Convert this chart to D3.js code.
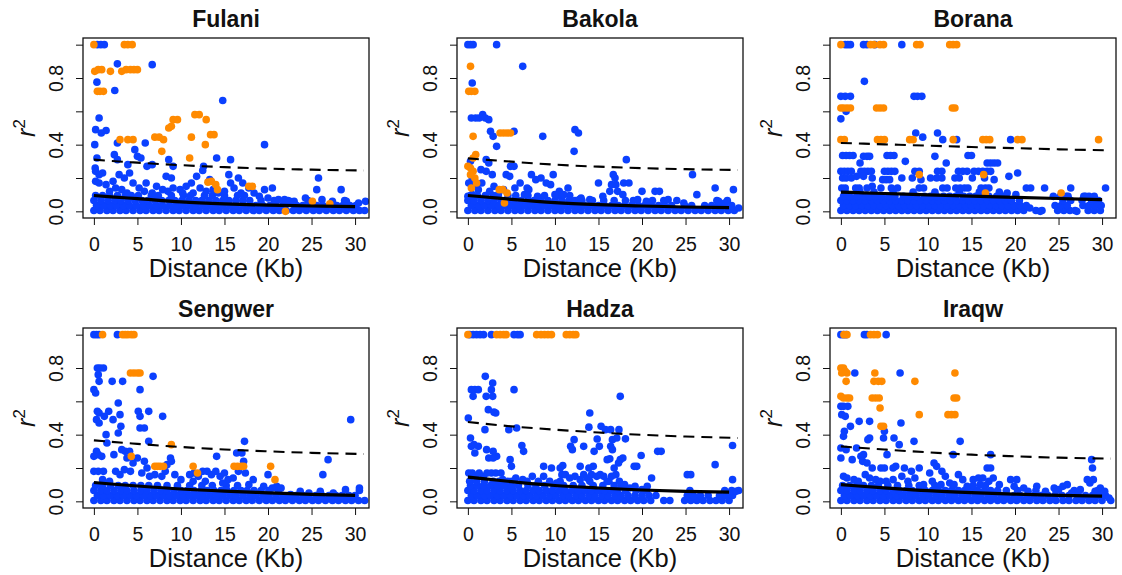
<!DOCTYPE html>
<html>
<head>
<meta charset="utf-8">
<script src="https://cdn.jsdelivr.net/npm/d3@7"></script>
<style>
  body { margin: 0; background: #fff; }
  svg { display: block; }
  text { font-family: "Liberation Sans", Arial, sans-serif; fill: #111; }
  .tick text { font-size: 19.5px; }
  .tick line { stroke: #111; }
</style>
</head>
<body>
<svg id="chart" width="1122" height="575"></svg>
<script>
// panel names, axis ticks
const populations = ["Fulani", "Bakola", "Borana", "Sengwer", "Hadza", "Iraqw"];
const xTicks = [0, 5, 10, 15, 20, 25, 30];
const yTicks = [0, 0.2, 0.4, 0.6, 0.8, 1];
const yTickLabels = ["0.0", "", "0.4", "", "0.8", ""];

// fitted decay curves
const solidX = [0, 2, 5, 10, 15, 20, 25, 30];
const dashX = [0, 2, 5, 10, 15, 20, 25, 31];
const fulaniSolid = [0.095, 0.087, 0.076, 0.057, 0.045, 0.037, 0.032, 0.028];
const fulaniDash = [0.31, 0.302, 0.292, 0.277, 0.265, 0.256, 0.25, 0.245];
const bakolaSolid = [0.095, 0.086, 0.072, 0.052, 0.04, 0.032, 0.026, 0.022];
const bakolaDash = [0.318, 0.31, 0.298, 0.28, 0.268, 0.259, 0.253, 0.248];
const boranaSolid = [0.115, 0.112, 0.107, 0.099, 0.091, 0.084, 0.077, 0.07];
const boranaDash = [0.41, 0.407, 0.402, 0.394, 0.386, 0.379, 0.372, 0.366];
const sengwerSolid = [0.113, 0.104, 0.092, 0.074, 0.061, 0.051, 0.042, 0.036];
const sengwerDash = [0.366, 0.357, 0.345, 0.326, 0.311, 0.3, 0.291, 0.284];
const hadzaSolid = [0.145, 0.135, 0.118, 0.095, 0.08, 0.068, 0.06, 0.055];
const hadzaDash = [0.476, 0.465, 0.45, 0.43, 0.413, 0.399, 0.389, 0.38];
const iraqwSolid = [0.1, 0.092, 0.081, 0.064, 0.052, 0.043, 0.036, 0.031];
const iraqwDash = [0.33, 0.322, 0.311, 0.294, 0.28, 0.27, 0.262, 0.256];

// dense low-r2 band, as rows: [r2, [distances]]
const fulaniFloor = [
  [0.005, [0,0.7,1.5,2.2,3.0,3.7,4.5,5.3,6.0,6.8,7.5,8.3,9.1,9.8,10.6,11.4,12.1,12.9,13.7,14.4,15.2,16.0,16.7,17.5,18.3,19.0,19.8,20.6,21.3,22.1,22.9,23.6,24.4,25.2,25.9,26.7,27.5,28.2,29.0,29.8,30.5,31.1]],
  [0.035, [0.3,1.1,1.9,2.6,3.4,4.1,4.9,5.7,6.4,7.2,7.9,8.7,9.5,10.2,11.0,11.7,12.5,13.3,14.0,14.8,15.6,16.3,17.1,17.9,18.6,19.4,20.2,20.9,21.7,23.3,24.0,24.8,25.6,26.3,27.1,27.9,28.6,29.4,30.1]],
  [0.065, [0,0.8,1.6,2.4,3.1,3.9,4.7,5.5,6.2,7.0,7.8,8.6,9.3,10.1,10.9,11.7,12.4,13.2,14.0,14.8,15.5,16.3,17.1,17.9,19.2,20.7,22.3,24.6,28.8]],
  [0.095, [0.2,1.0,1.8,2.7,3.6,4.3,5.1,6.6,7.4,8.9,10.3,11.1,12.7,13.6,15.0,16.5,17.3]]
];
const bakolaFloor = [
  [0.005, [0,0.8,1.5,2.3,3.1,3.8,4.6,5.4,6.1,6.9,7.7,8.4,9.2,10.0,10.7,11.5,12.3,13.0,13.8,14.6,15.3,16.1,16.9,17.6,18.4,19.2,19.9,20.7,21.5,22.2,23.0,23.8,24.5,25.3,26.1,26.8,27.6,28.4,29.1,29.9,30.6]],
  [0.035, [0.4,1.2,1.9,2.7,3.5,4.2,5.0,5.8,6.5,7.3,8.1,8.8,9.6,10.4,11.1,11.9,12.7,13.4,14.2,15.0,15.7,16.5,17.3,18.0,18.8,19.6,20.3,21.1,21.9,22.6,23.4,24.9,25.7,27.2,28.0,28.8,29.5,30.3]],
  [0.065, [0,0.7,1.5,2.3,3.0,3.8,4.6,5.3,6.1,6.9,7.6,8.4,9.2,10.0,10.8,11.6,12.3,13.1,14.3,15.6,16.8,18.1,19.0,21.2,22.5,24.0,28.6,29.8]],
  [0.095, [0.3,1.1,2.0,2.9,4.6,5.5,6.9,8.8,10.4,11.7]]
];
const boranaFloor = [
  [0.005, [0,0.7,1.4,2.1,2.8,3.5,4.2,4.9,5.6,6.3,7.0,7.7,8.4,9.1,9.8,10.5,11.2,11.9,12.6,13.3,14.0,14.7,15.4,16.1,16.8,17.5,18.2,18.9,19.6,20.3,21.0,22.4,23.1,24.9,25.6,26.3,26.9,28.4,29.1,29.8]],
  [0.035, [0.3,1.0,1.7,2.4,3.1,3.8,4.5,5.2,5.9,6.6,7.3,8.0,8.7,9.4,10.1,10.8,11.5,12.2,12.9,13.6,14.3,15.0,15.7,16.4,17.1,17.8,18.5,19.2,19.9,20.6,21.3,24.6,25.3,26.0,27.8,28.5,29.2,29.9]],
  [0.065, [0,0.7,1.4,2.1,2.8,3.5,4.2,4.9,5.6,6.3,7.0,7.7,8.4,9.1,9.8,10.5,11.2,11.9,12.6,13.3,14.0,14.7,15.4,16.1,16.8,17.5,18.2,18.9,19.6,20.5,25.5,26.4,27.7,28.8,29.6]],
  [0.09, [0.3,1.0,1.8,2.6,3.3,4.0,4.7,5.5,6.2,7.2,8.0,8.7,9.6,10.3,11.0,11.8,12.5,13.2,14.1,14.8,15.5,16.3,17.0,17.9,18.7,24.4,25.2,26.1,27.9,28.5,29.1]],
  [0.115, [0.5,2.2,3.8,6.0,8.3,10.8,13.6,15.9,18.2]]
];
const sengwerFloor = [
  [0.005, [0,0.8,1.5,2.3,3.0,3.8,4.6,5.3,6.1,6.8,7.6,8.4,9.1,9.9,10.6,11.4,12.2,12.9,13.7,14.4,15.2,16.0,16.7,17.5,18.2,19.0,19.8,20.5,21.3,22.0,22.8,23.6,24.3,25.1,25.8,26.6,27.4,28.1,28.9,29.6,30.4,31.1]],
  [0.035, [0.4,1.1,1.9,2.7,3.4,4.2,4.9,5.7,6.5,7.2,8.0,8.7,9.5,10.3,11.0,11.8,12.5,13.3,14.1,14.8,15.6,16.3,17.1,17.9,18.6,19.4,20.1,20.9,21.7,22.4,23.2,24.0,24.7,25.5,26.2,27.0,27.8,28.5,29.3,30.0]],
  [0.065, [0,0.8,1.5,2.3,3.1,3.8,4.6,5.4,6.1,6.9,7.7,8.4,9.2,10.0,10.7,11.5,12.3,13.0,13.8,14.6,15.3,16.1,16.9,17.6,18.4,19.2,20.1,21.2,30.5]],
  [0.095, [0.2,1.0,1.9,2.8,3.6,4.5,5.4,6.3,7.3,8.4,9.6,11.0,12.4,13.6,15.2,16.5]]
];
const hadzaFloor = [
  [0.005, [0,0.7,1.5,2.2,3.0,3.7,4.5,5.2,6.0,6.7,7.5,8.2,9.0,9.7,10.5,11.2,12.0,12.7,13.5,14.2,15.0,15.7,16.5,17.2,18.0,18.7,19.5,20.2,21.0,22.5,23.2,24.9,25.6,26.3,27.0,27.8,28.5,29.2,30.0]],
  [0.035, [0.4,1.1,1.9,2.6,3.4,4.1,4.9,5.6,6.4,7.1,7.9,8.6,9.4,10.1,10.9,11.6,12.4,13.1,13.9,14.6,15.4,16.1,16.9,17.6,18.4,19.2,20.0,20.8,21.6,25.2,25.9,26.7,27.6,28.9,29.7,30.4]],
  [0.065, [0,0.7,1.5,2.2,3.0,3.7,4.5,5.2,6.0,6.7,7.5,8.2,9.0,9.7,10.5,11.2,12.0,12.7,13.5,14.2,15.0,15.7,16.5,17.2,18.1,19.3,20.5,25.5,29.5,30.3]],
  [0.095, [0.3,1.1,1.8,2.6,3.4,4.2,5.0,5.8,6.9,7.8,8.8,9.9,11.0,12.1,13.1,14.4,15.5,16.8,17.6]],
  [0.12, [0.2,1.0,1.9,2.9,3.6,4.6,6.8,10.6,14.0,16.2]]
];
const iraqwFloor = [
  [0.005, [0,0.7,1.5,2.2,3.0,3.7,4.5,5.2,6.0,6.7,7.5,8.2,9.0,9.7,10.5,11.2,12.0,12.7,13.5,14.2,15.0,15.7,16.5,17.2,18.0,18.7,19.5,20.2,21.0,21.7,22.5,23.2,24.0,24.7,25.5,26.2,27.0,27.7,28.5,29.2,30.0,31.0]],
  [0.035, [0.4,1.1,1.9,2.6,3.4,4.1,4.9,5.6,6.4,7.1,7.9,8.6,9.4,10.1,10.9,11.6,12.4,13.1,13.9,14.6,15.4,16.1,16.9,17.6,18.4,19.1,19.9,20.6,21.4,22.2,23.0,23.8,24.6,25.4,26.2,27.3,28.1,28.9,29.7,30.4]],
  [0.065, [0,0.7,1.5,2.2,3.0,3.7,4.5,5.2,6.0,6.7,7.5,8.2,9.0,9.7,10.5,11.2,12.0,12.7,13.5,14.2,15.0,15.7,16.5,17.2,18.0,19.0,20.3,22.4,24.7,26.8,29.5]],
  [0.095, [0.2,1.0,1.8,2.6,3.5,4.3,5.4,6.5,7.8,9.0,10.8,12.9,15.2,16.6]]
];

// scattered pairs [distance, r2]
const fulaniBlue = [
  [0.4,1],[0.8,1],[1.2,1],[2.7,0.885],[6.7,0.88],[0.35,0.775],[2.4,0.725],[0.6,0.56],[0.2,0.49],[1.4,0.485],
  [0.85,0.47],[0.1,0.4],[2.7,0.41],[5.9,0.41],[14.8,0.665],[19.6,0.4],[14.1,0.32],[15.7,0.31],[0.35,0.32],[0.15,0.26],
  [4.7,0.37],[5.0,0.33],[5.4,0.32],[2.35,0.34],[2.7,0.31],[3.9,0.28],[6.7,0.28],[6.1,0.27],[8.6,0.31],[9.1,0.27],
  [12.6,0.27],[12.5,0.245],[11.8,0.21],[8.3,0.21],[8.9,0.2],[11.2,0.17],[9.9,0.13],[13.3,0.19],[15.5,0.22],[15.7,0.17],
  [16.6,0.2],[17.1,0.17],[19.6,0.13],[20.5,0.14],[25.8,0.2],[25.6,0.13],[28.4,0.13],[24.3,0.08],[23.0,0.06],[21.9,0.07],
  [31.2,0.06],[30.4,0.05],[0.2,0.24],[0.6,0.22],[1.0,0.23],[0.2,0.18],[0.6,0.17],[1.4,0.16],[2.2,0.18],[2.9,0.22],
  [3.5,0.2],[4.1,0.23],[4.5,0.17],[2.5,0.14],[5.2,0.14],[6.0,0.17],[7.2,0.15],[7.9,0.13],[9.1,0.14],[10.6,0.15],
  [12.2,0.14],[11.4,0.11],[13.7,0.13],[14.3,0.11],[16.1,0.14],[17.8,0.14],[18.4,0.11],[1.8,0.12],[3.2,0.13],[3.8,0.11],
  [5.8,0.12],[6.7,0.11],[8.5,0.12],[10.2,0.11],[12.9,0.12],[15.0,0.12],[16.9,0.11],[19.0,0.09],[20.0,0.08],[21.2,0.07],
  [22.5,0.06],[26.2,0.07],[27.4,0.06],[29.0,0.06]
];
const fulaniOrange = [
  [0,1],[3.5,1],[3.9,1],[4.4,1],[0.1,0.84],[0.5,0.85],[0.9,0.85],[1.9,0.84],[3.2,0.84],[3.7,0.85],
  [4.2,0.85],[4.6,0.85],[5.0,0.85],[0.4,0.72],[0.7,0.72],[1.1,0.72],[3.0,0.43],[3.9,0.43],[4.5,0.43],[7.0,0.445],
  [7.5,0.445],[8.0,0.43],[7.8,0.36],[8.6,0.5],[8.9,0.51],[9.1,0.55],[9.6,0.55],[11.0,0.32],[11.2,0.445],[11.6,0.58],
  [12.1,0.58],[12.9,0.55],[12.8,0.4],[13.4,0.46],[13.8,0.46],[13.1,0.175],[13.5,0.18],[14.0,0.16],[14.2,0.13],[17.8,0.15],
  [18.2,0.15],[22.0,0.0],[25.1,0.06],[27.1,0.045]
];
const bakolaBlue = [
  [0,1],[0.3,1],[0.6,1],[3.3,1],[6.3,0.87],[0.5,0.77],[0.4,0.56],[0.9,0.56],[1.3,0.56],[1.7,0.58],
  [2.0,0.56],[2.4,0.55],[2.6,0.48],[2.9,0.45],[5.3,0.48],[3.3,0.39],[8.6,0.45],[12.3,0.49],[12.7,0.47],[12.2,0.36],
  [18.2,0.31],[2.1,0.31],[2.4,0.29],[0.3,0.3],[4.9,0.27],[5.3,0.27],[1.5,0.25],[2.1,0.24],[2.8,0.22],[4.4,0.22],
  [4.8,0.21],[0.1,0.17],[0.5,0.2],[0.8,0.16],[1.6,0.17],[3.0,0.15],[4.1,0.13],[5.4,0.14],[6.0,0.17],[7.0,0.13],
  [7.3,0.22],[7.8,0.19],[8.4,0.2],[9.0,0.17],[9.5,0.16],[9.8,0.22],[10.5,0.12],[11.5,0.14],[12.8,0.07],[15.0,0.17],
  [16.3,0.12],[16.7,0.22],[16.9,0.2],[17.0,0.16],[16.5,0.16],[17.2,0.12],[17.9,0.17],[18.5,0.17],[20.0,0.12],[21.5,0.12],
  [22.0,0.12],[23.0,0.07],[25.8,0.22],[26.3,0.1],[28.4,0.14],[30.5,0.13],[31.1,0.02],[29.5,0.05],[28.8,0.06],[24.8,0.05],
  [20.5,0.06],[19.5,0.07],[14.0,0.07],[13.0,0.08],[10.0,0.1],[8.0,0.09],[6.5,0.1],[3.5,0.1],[2.5,0.12],[1.2,0.13],
  [0,0.09],[0.5,0.1],[6.8,0.14],[11.0,0.1],[15.5,0.09],[17.8,0.1]
];
const bakolaOrange = [
  [0.3,0.87],[0.1,0.72],[0.4,0.72],[0.8,0.72],[0.6,0.45],[0.9,0.34],[0.6,0.32],[0,0.27],[0.3,0.26],[0.6,0.24],
  [0.3,0.22],[0.8,0.2],[1.0,0.17],[0.4,0.14],[3.7,0.47],[4.1,0.47],[4.5,0.47],[4.9,0.47],[3.6,0.13],[4.0,0.13],
  [4.5,0.11],[4.2,0.05]
];
const boranaBlue = [
  [0.5,1],[0.8,1],[1.1,1],[2.6,1],[3.0,1],[3.9,1],[7.0,1],[2.7,0.78],[0,0.69],[0.5,0.69],
  [1.1,0.69],[8.4,0.69],[8.8,0.69],[9.3,0.69],[0,0.555],[0.6,0.6],[8.6,0.47],[9.4,0.445],[11.1,0.47],[11.7,0.43],
  [13.3,0.43],[19.5,0.43],[0.2,0.335],[0.6,0.335],[1.0,0.335],[1.4,0.335],[2.6,0.33],[3.0,0.33],[3.3,0.33],[5.3,0.335],
  [5.7,0.335],[6.1,0.335],[10.8,0.33],[14.6,0.335],[15.0,0.335],[2.2,0.29],[7.4,0.3],[12.1,0.29],[16.8,0.29],[17.2,0.29],
  [17.6,0.29],[18.0,0.29],[0,0.24],[0.4,0.24],[0.8,0.24],[1.2,0.24],[2.3,0.24],[2.7,0.24],[3.1,0.24],[3.5,0.24],
  [5.0,0.24],[5.4,0.24],[5.8,0.24],[6.2,0.24],[8.5,0.24],[9.0,0.24],[11.1,0.24],[11.6,0.24],[13.5,0.24],[14.0,0.24],
  [14.5,0.24],[15.3,0.24],[15.8,0.24],[16.3,0.24],[16.8,0.24],[17.2,0.24],[20.3,0.23],[19.3,0.21],[0.2,0.2],[0.6,0.2],
  [1.2,0.2],[1.8,0.21],[2.6,0.21],[3.6,0.2],[4.8,0.19],[5.2,0.19],[5.6,0.19],[7.0,0.2],[8.2,0.2],[9.2,0.19],
  [10.3,0.2],[11.0,0.2],[11.6,0.2],[13.1,0.2],[13.6,0.2],[15.1,0.2],[16.5,0.2],[17.6,0.19],[0.1,0.14],[0.5,0.14],
  [1.7,0.14],[2.1,0.14],[3.0,0.14],[3.6,0.15],[4.6,0.14],[5.8,0.14],[6.5,0.14],[9.0,0.14],[9.5,0.14],[11.7,0.14],
  [12.2,0.14],[13.2,0.14],[13.7,0.14],[14.2,0.14],[14.6,0.14],[16.1,0.14],[16.6,0.14],[17.0,0.14],[19.1,0.11],[21.3,0.14],
  [21.8,0.14],[23.4,0.14],[26.4,0.14],[30.4,0.14],[20.1,0.1],[21.7,0.02],[22.9,0.0],[27.1,0.0],[25.9,0.09],[28.1,0.09]
];
const boranaOrange = [
  [0,1],[3.4,1],[3.8,1],[4.5,1],[4.9,1],[8.7,1],[9.1,1],[12.5,1],[12.9,1],[13.3,1],
  [0,0.62],[0.3,0.62],[0.7,0.62],[1.1,0.62],[4.1,0.62],[4.5,0.62],[4.9,0.62],[12.8,0.62],[13.1,0.62],[0,0.43],
  [0.4,0.43],[4.2,0.43],[4.6,0.43],[5.0,0.43],[7.9,0.43],[8.3,0.43],[12.9,0.43],[16.3,0.43],[16.7,0.43],[17.1,0.43],
  [20.3,0.43],[20.8,0.43],[29.6,0.43],[16.4,0.22],[16.6,0.11],[25.3,0.11],[9.0,0.22]
];
const sengwerBlue = [
  [0,1],[0.3,1],[0.6,1],[2.7,1],[0.4,0.8],[0.7,0.8],[1.1,0.8],[0.5,0.76],[0.6,0.72],[2.1,0.72],
  [3.3,0.72],[6.8,0.75],[0,0.67],[0.2,0.65],[5.3,0.67],[2.8,0.59],[0.4,0.54],[0.6,0.53],[1.7,0.54],[3.0,0.52],
  [5.1,0.54],[6.3,0.54],[0.3,0.49],[0.6,0.47],[1.2,0.51],[2.2,0.49],[5.3,0.51],[7.9,0.51],[1.4,0.4],[2.8,0.41],
  [3.1,0.45],[5.3,0.44],[5.8,0.44],[1.5,0.35],[6.3,0.36],[29.5,0.49],[17.3,0.36],[0.3,0.3],[0.5,0.28],[0,0.27],
  [0.9,0.27],[3.2,0.31],[3.6,0.3],[4.1,0.3],[2.3,0.28],[3.8,0.26],[4.5,0.23],[5.0,0.26],[5.8,0.24],[14.1,0.27],
  [16.4,0.29],[17.0,0.29],[17.2,0.24],[26.9,0.25],[26.3,0.16],[30.5,0.08],[8.8,0.26],[8.4,0.22],[8.9,0.24],[0,0.18],
  [0.5,0.18],[1.1,0.18],[2.5,0.18],[3.0,0.16],[3.5,0.19],[4.2,0.18],[5.5,0.17],[6.1,0.2],[6.4,0.15],[7.0,0.16],
  [7.8,0.15],[8.2,0.18],[9.3,0.16],[10.0,0.13],[11.0,0.16],[11.5,0.17],[12.0,0.15],[12.5,0.18],[13.0,0.18],[13.5,0.16],
  [14.0,0.18],[14.5,0.15],[15.0,0.17],[15.4,0.13],[16.0,0.14],[16.6,0.18],[17.4,0.17],[18.3,0.13],[17.8,0.1],[19.5,0.09],
  [20.0,0.16],[20.5,0.08],[21.0,0.09],[21.5,0.08],[1.0,0.13],[1.8,0.12],[11.4,0.12],[12.8,0.12],[14.8,0.11],[23.7,0.06],
  [28.9,0.07],[27.5,0.05],[26.0,0.06],[24.7,0.05],[22.6,0.04]
];
const sengwerOrange = [
  [1.0,1],[3.3,1],[3.6,1],[3.9,1],[4.3,1],[4.6,1],[4.2,0.77],[4.6,0.77],[5.0,0.77],[5.3,0.77],
  [8.9,0.34],[4.3,0.27],[7.0,0.21],[7.3,0.21],[7.6,0.21],[8.0,0.21],[11.4,0.21],[11.9,0.17],[16.1,0.21],[16.5,0.21],
  [16.9,0.21],[17.2,0.21],[20.3,0.21],[20.8,0.13]
];
const hadzaBlue = [
  [0.2,1],[0.6,1],[1.0,1],[1.4,1],[1.8,1],[2.7,1],[5.3,1],[5.7,1],[6.0,1],[2.0,0.75],
  [0.4,0.67],[0.8,0.67],[1.2,0.67],[0.6,0.63],[2.85,0.71],[2.7,0.67],[2.1,0.63],[2.85,0.63],[5.3,0.67],[17.5,0.63],
  [0.05,0.5],[2.35,0.55],[3.2,0.53],[3.0,0.535],[1.96,0.43],[4.7,0.43],[5.6,0.44],[14.0,0.53],[13.9,0.445],[15.3,0.45],
  [15.8,0.43],[16.4,0.43],[17.35,0.43],[14.85,0.374],[16.6,0.37],[17.1,0.38],[18.1,0.375],[12.2,0.37],[11.8,0.33],[12.0,0.31],
  [13.3,0.33],[14.5,0.3],[15.1,0.33],[16.4,0.33],[16.6,0.31],[16.0,0.25],[16.3,0.255],[17.5,0.25],[17.3,0.23],[17.8,0.26],
  [0.3,0.38],[0.7,0.34],[0.8,0.29],[0.4,0.33],[1.2,0.33],[2.15,0.31],[2.9,0.3],[3.3,0.27],[2.4,0.26],[2.9,0.26],
  [4.85,0.25],[5.0,0.21],[6.2,0.335],[6.4,0.3],[8.7,0.21],[10.9,0.215],[19.9,0.275],[19.1,0.21],[19.4,0.21],[21.8,0.3],
  [22.2,0.3],[28.4,0.22],[30.4,0.335],[30.4,0.13],[31.1,0.065],[25.2,0.16],[25.6,0.16],[21.1,0.14],[30.8,0.06],[0.1,0.17],
  [0.5,0.17],[0.9,0.15],[1.3,0.17],[2.2,0.17],[2.7,0.17],[3.2,0.17],[3.8,0.17],[1.8,0.15],[4.0,0.13],[5.0,0.12],
  [5.5,0.14],[6.3,0.13],[7.4,0.15],[8.1,0.12],[8.7,0.15],[9.4,0.12],[10.2,0.11],[10.8,0.16],[11.2,0.16],[11.7,0.14],
  [12.3,0.15],[12.9,0.13],[13.3,0.16],[13.7,0.14],[14.2,0.16],[14.8,0.15],[15.2,0.16],[15.6,0.15],[16.0,0.12],[16.5,0.15],
  [17.0,0.16],[17.4,0.12],[18.0,0.1],[18.6,0.08],[19.2,0.09],[20.0,0.07],[20.6,0.09],[9.6,0.2],[12.9,0.21],[14.4,0.21],
  [16.8,0.2],[13.9,0.2],[10.6,0.2]
];
const hadzaOrange = [
  [0,1],[3.3,1],[3.7,1],[4.1,1],[4.4,1],[7.9,1],[8.4,1],[8.8,1],[9.2,1],[9.6,1],
  [11.3,1],[11.7,1],[12.1,1],[12.4,1]
];
const iraqwBlue = [
  [0,1],[0.3,1],[0.6,1],[2.7,1],[3.0,1],[5.2,1],[1.6,0.77],[6.8,0.77],[0,0.57],[0.3,0.57],
  [0.8,0.57],[0.1,0.52],[0.5,0.51],[1.1,0.45],[0.4,0.42],[0.3,0.39],[2.1,0.48],[3.3,0.48],[6.9,0.47],[3.3,0.38],
  [3.1,0.37],[5.0,0.42],[4.9,0.38],[6.1,0.38],[6.7,0.34],[8.4,0.36],[13.7,0.36],[12.9,0.28],[17.2,0.28],[28.8,0.25],
  [28.9,0.2],[0,0.32],[0.6,0.31],[1.8,0.32],[2.3,0.27],[2.6,0.28],[5.3,0.28],[0,0.26],[1.3,0.25],[2.5,0.24],
  [3.0,0.23],[3.6,0.2],[4.6,0.2],[5.0,0.2],[6.3,0.21],[6.0,0.2],[7.3,0.2],[8.1,0.18],[9.0,0.2],[10.2,0.17],
  [10.7,0.23],[11.0,0.21],[11.6,0.18],[12.0,0.15],[13.5,0.16],[14.0,0.13],[15.2,0.13],[15.8,0.14],[16.3,0.14],[16.8,0.2],
  [17.2,0.2],[17.5,0.14],[18.2,0.1],[19.5,0.13],[20.2,0.13],[19.9,0.09],[21.0,0.08],[21.5,0.06],[22.5,0.09],[23.5,0.06],
  [24.5,0.08],[25.0,0.07],[25.5,0.09],[26.0,0.1],[26.5,0.05],[27.5,0.07],[28.3,0.13],[28.6,0.11],[29.2,0.06],[29.8,0.08],
  [30.3,0.06],[30.8,0.02],[29.0,0.13],[0.3,0.15],[0.7,0.14],[1.5,0.13],[2.0,0.12],[2.8,0.16],[3.3,0.14],[4.0,0.13],
  [4.5,0.12],[5.2,0.12],[6.0,0.13],[7.0,0.15],[7.7,0.12],[8.5,0.14],[9.5,0.1],[10.5,0.12],[11.5,0.1],[12.5,0.11],
  [13.0,0.1],[14.5,0.09],[16.0,0.1],[17.0,0.12]
];
const iraqwOrange = [
  [0.35,1],[0.7,1],[3.4,1],[3.8,1],[4.2,1],[0,0.8],[0.3,0.8],[0.5,0.78],[0.1,0.77],[0.7,0.77],
  [0.6,0.72],[3.9,0.77],[3.8,0.72],[4.3,0.72],[4.7,0.72],[8.5,0.72],[13.1,0.77],[0,0.63],[0.3,0.62],[0.7,0.62],
  [1.0,0.62],[3.6,0.62],[4.0,0.62],[4.4,0.62],[4.5,0.56],[4.6,0.45],[4.9,0.45],[9.0,0.52],[12.3,0.52],[12.7,0.52],
  [13.1,0.52],[13.0,0.62],[13.3,0.62]
];

const panels = [
  { floor: fulaniFloor, blue: fulaniBlue, orange: fulaniOrange, solid: fulaniSolid, dash: fulaniDash },
  { floor: bakolaFloor, blue: bakolaBlue, orange: bakolaOrange, solid: bakolaSolid, dash: bakolaDash },
  { floor: boranaFloor, blue: boranaBlue, orange: boranaOrange, solid: boranaSolid, dash: boranaDash },
  { floor: sengwerFloor, blue: sengwerBlue, orange: sengwerOrange, solid: sengwerSolid, dash: sengwerDash },
  { floor: hadzaFloor, blue: hadzaBlue, orange: hadzaOrange, solid: hadzaSolid, dash: hadzaDash },
  { floor: iraqwFloor, blue: iraqwBlue, orange: iraqwOrange, solid: iraqwSolid, dash: iraqwDash }
];

const svg = d3.select("#chart");
const colLeft = [83, 457, 830];
const rowTop = [38, 328];
const plotW = 286, plotH = 180;
const blueCol = "#0b40ff", orangeCol = "#ff8a00";
const r = 3.8;

panels.forEach((p, i) => {
  const left = colLeft[i % 3], top = rowTop[Math.floor(i / 3)];
  const g = svg.append("g").attr("transform", `translate(${left},${top})`);

  const x = d3.scaleLinear().domain([-1.25, 31.6]).range([0, plotW]);
  const y = d3.scaleLinear().domain([-0.04, 1.04]).range([plotH, 0]);

  g.append("clipPath").attr("id", "clip" + i)
    .append("rect").attr("width", plotW).attr("height", plotH);
  const plot = g.append("g").attr("clip-path", `url(#clip${i})`);

  const floorPts = p.floor.flatMap(([yv, xs]) => xs.map(xv => [xv, yv]));

  plot.selectAll(".floor").data(floorPts).join("circle")
    .attr("cx", d => x(d[0])).attr("cy", d => y(d[1])).attr("r", r)
    .attr("fill", blueCol);
  plot.selectAll(".blue").data(p.blue).join("circle")
    .attr("cx", d => x(d[0])).attr("cy", d => y(d[1])).attr("r", r)
    .attr("fill", blueCol);
  plot.selectAll(".orange").data(p.orange).join("circle")
    .attr("cx", d => x(d[0])).attr("cy", d => y(d[1])).attr("r", r)
    .attr("fill", orangeCol);

  const line = d3.line().x(d => x(d[0])).y(d => y(d[1])).curve(d3.curveMonotoneX);
  plot.append("path")
    .attr("d", line(solidX.map((v, k) => [v, p.solid[k]])))
    .attr("fill", "none").attr("stroke", "#000").attr("stroke-width", 3.2);
  plot.append("path")
    .attr("d", line(dashX.map((v, k) => [v, p.dash[k]])))
    .attr("fill", "none").attr("stroke", "#000").attr("stroke-width", 2.1)
    .attr("stroke-dasharray", "11,7");

  // axes
  const xa = g.append("g").attr("transform", `translate(0,${plotH})`)
    .call(d3.axisBottom(x).tickValues(xTicks).tickSize(7).tickPadding(12).tickFormat(d3.format("d")));
  xa.select(".domain").remove();

  const ya = g.append("g")
    .call(d3.axisLeft(y).tickValues(yTicks).tickSize(7).tickFormat((d, k) => yTickLabels[k]));
  ya.select(".domain").remove();
  ya.selectAll(".tick text")
    .attr("x", 0).attr("y", -20).attr("dy", null)
    .attr("transform", "rotate(-90)")
    .attr("text-anchor", "middle");

  g.append("rect").attr("width", plotW).attr("height", plotH)
    .attr("fill", "none").attr("stroke", "#111").attr("stroke-width", 1.3);

  g.append("text").attr("x", plotW / 2).attr("y", -11)
    .attr("text-anchor", "middle").attr("font-size", 23).attr("font-weight", "bold")
    .text(populations[i]);

  g.append("text").attr("x", plotW / 2).attr("y", plotH + 59)
    .attr("text-anchor", "middle").attr("font-size", 25.5)
    .text("Distance (Kb)");

  const yl = g.append("text")
    .attr("transform", `translate(-48,${plotH / 2}) rotate(-90)`)
    .attr("text-anchor", "middle").attr("font-size", 25);
  yl.append("tspan").attr("font-style", "italic").text("r");
  yl.append("tspan").attr("font-size", 17).attr("dy", -10).text("2");
});
</script>
</body>
</html>
